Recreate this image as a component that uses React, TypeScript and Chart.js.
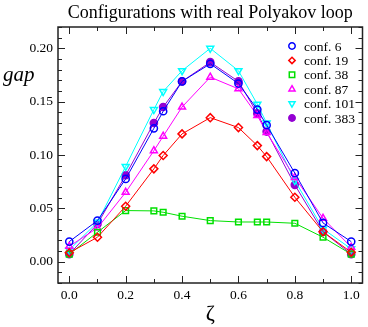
import React, { useEffect, useRef } from 'react';
import { Chart, registerables } from 'chart.js';
Chart.register(...registerables);

const zeta = [0, 0.1, 0.2, 0.3, 0.333, 0.4, 0.5, 0.6, 0.667, 0.7, 0.8, 0.9, 1.0];
const conf6 = [0.0188, 0.0385, 0.0776, 0.125, 0.141, 0.169, 0.1855, 0.167, 0.1426, 0.128, 0.083, 0.0363, 0.0188];
const conf19 = [0.0084, 0.0229, 0.052, 0.087, 0.0995, 0.1198, 0.135, 0.1257, 0.1088, 0.0985, 0.0604, 0.028, 0.0088];
const conf38 = [0.007, 0.0276, 0.0479, 0.0476, 0.0463, 0.0426, 0.0385, 0.0372, 0.0372, 0.0372, 0.036, 0.0229, 0.007];
const conf87 = [0.0144, 0.0316, 0.065, 0.104, 0.1176, 0.145, 0.173, 0.162, 0.137, 0.121, 0.079, 0.0407, 0.0135];
const conf101 = [0.011, 0.037, 0.0893, 0.1426, 0.1595, 0.179, 0.2, 0.179, 0.1476, 0.13, 0.076, 0.0307, 0.012];
const conf383 = [0.007, 0.0354, 0.081, 0.13, 0.145, 0.169, 0.187, 0.169, 0.139, 0.122, 0.072, 0.028, 0.007];

const seriesNames = ['conf. 6', 'conf. 19', 'conf. 38', 'conf. 87', 'conf. 101', 'conf. 383'];
const seriesValues = [conf6, conf19, conf38, conf87, conf101, conf383];
const seriesColors = ['#0000ff', '#ff0000', '#00e000', '#ff00ff', '#00ffff', '#9400d3'];
const seriesStyles = ['circle', 'rectRot', 'rect', 'triangle', 'triangle', 'circle'];
const seriesRotation = [0, 0, 0, 0, 180, 0];
const seriesFilled = [false, false, false, false, false, true];

const xTickValues = [0, 0.2, 0.4, 0.6, 0.8, 1.0];
const xTickLabels = ['0.0', '0.2', '0.4', '0.6', '0.8', '1.0'];
const yTickValues = [0, 0.05, 0.1, 0.15, 0.2];
const yTickLabels = ['0.00', '0.05', '0.10', '0.15', '0.20'];

const titleText = 'Configurations with real Polyakov loop';
const yLabel = 'gap';
const xLabel = 'ζ';

const SERIF = '"Liberation Serif", "Times New Roman", serif';

function drawMarker(ctx: CanvasRenderingContext2D, style: string, rot: number, x: number, y: number, r: number, color: string, filled: boolean) {
  ctx.save();
  ctx.translate(x, y);
  ctx.rotate((rot * Math.PI) / 180);
  ctx.beginPath();
  if (style === 'circle') {
    ctx.arc(0, 0, r, 0, Math.PI * 2);
  } else if (style === 'rectRot') {
    ctx.moveTo(0, -r); ctx.lineTo(r, 0); ctx.lineTo(0, r); ctx.lineTo(-r, 0); ctx.closePath();
  } else if (style === 'rect') {
    const s = r * 0.85;
    ctx.rect(-s, -s, 2 * s, 2 * s);
  } else if (style === 'triangle') {
    const h = r * 1.1;
    ctx.moveTo(0, -h); ctx.lineTo(h * 0.866, h * 0.5); ctx.lineTo(-h * 0.866, h * 0.5); ctx.closePath();
  }
  ctx.lineWidth = 1.5;
  ctx.strokeStyle = color;
  if (filled) { ctx.fillStyle = color; ctx.fill(); }
  ctx.stroke();
  ctx.restore();
}

const framePlugin = {
  id: 'framePlugin',
  afterDraw(chart: any) {
    const { ctx, chartArea: a, scales } = chart;
    const x = scales.x, y = scales.y;
    ctx.save();
    ctx.strokeStyle = '#222';
    ctx.lineWidth = 1.5;
    ctx.strokeRect(a.left, a.top, a.right - a.left, a.bottom - a.top);
    ctx.lineWidth = 1;
    for (let i = -2; i <= 22; i++) {
      const py = Math.round(y.getPixelForValue(i / 100)) + 0.5;
      const len = i % 5 === 0 ? 7 : 4;
      ctx.beginPath();
      ctx.moveTo(a.left, py); ctx.lineTo(a.left + len, py);
      ctx.moveTo(a.right, py); ctx.lineTo(a.right - len, py);
      ctx.stroke();
    }
    for (let i = 0; i <= 10; i++) {
      const px = Math.round(x.getPixelForValue(i / 10)) + 0.5;
      const len = i % 2 === 0 ? 7 : 4;
      ctx.beginPath();
      ctx.moveTo(px, a.bottom); ctx.lineTo(px, a.bottom - len);
      ctx.moveTo(px, a.top); ctx.lineTo(px, a.top + len);
      ctx.stroke();
    }
    ctx.fillStyle = '#000';
    ctx.font = '13.5px ' + SERIF;
    ctx.textAlign = 'right';
    ctx.textBaseline = 'middle';
    yTickValues.forEach((v, i) => {
      ctx.fillText(yTickLabels[i], a.left - 5, y.getPixelForValue(v));
    });
    ctx.textAlign = 'center';
    ctx.textBaseline = 'alphabetic';
    xTickValues.forEach((v, i) => {
      ctx.fillText(xTickLabels[i], x.getPixelForValue(v), a.bottom + 16);
    });
    ctx.font = '18px ' + SERIF;
    ctx.fillText(titleText, (a.left + a.right) / 2, 18);
    ctx.font = 'italic 21px ' + SERIF;
    ctx.textAlign = 'left';
    ctx.fillText(yLabel, 3, 81);
    ctx.font = '22px ' + SERIF;
    ctx.textAlign = 'center';
    ctx.fillText(xLabel, (a.left + a.right) / 2, 320);
    ctx.font = '13.5px ' + SERIF;
    ctx.textAlign = 'left';
    ctx.textBaseline = 'middle';
    seriesNames.forEach((name, i) => {
      const cy = 46 + i * 14.4;
      drawMarker(ctx, seriesStyles[i], seriesRotation[i], 292, cy, 3.2, seriesColors[i], seriesFilled[i]);
      ctx.fillStyle = '#000';
      ctx.fillText(name, 304, cy + 1);
    });
    ctx.restore();
  },
};

export default function App() {
  const ref = useRef<HTMLCanvasElement>(null);
  useEffect(() => {
    document.body.style.margin = '0';
    const canvas = ref.current!;
    const chart = new Chart(canvas, {
      type: 'scatter',
      data: {
        datasets: seriesNames.map((name, i) => ({
          label: name,
          data: zeta.map((z, j) => ({ x: z, y: seriesValues[i][j] })),
          showLine: true,
          borderColor: seriesColors[i],
          backgroundColor: seriesFilled[i] ? seriesColors[i] : 'rgba(0,0,0,0)',
          borderWidth: 1,
          pointStyle: seriesStyles[i] as any,
          pointRotation: seriesRotation[i],
          pointRadius: seriesStyles[i] === 'circle' ? 3.6 : 4,
          pointBorderWidth: 1.5,
          pointBorderColor: seriesColors[i],
          pointBackgroundColor: seriesFilled[i] ? seriesColors[i] : 'rgba(0,0,0,0)',
        })),
      },
      options: {
        animation: false,
        responsive: false,
        devicePixelRatio: 1,
        layout: { padding: { left: 58, right: 3, top: 27, bottom: 44 } },
        plugins: { legend: { display: false }, tooltip: { enabled: false }, title: { display: false } },
        scales: {
          x: { type: 'linear', min: -0.04, max: 1.04, display: false },
          y: { type: 'linear', min: -0.02, max: 0.22, display: false },
        },
      },
      plugins: [framePlugin],
    });
    return () => chart.destroy();
  }, []);
  return (
    <div style={{ width: 368, height: 327 }}>
      <canvas ref={ref} width={368} height={327} />
    </div>
  );
}
